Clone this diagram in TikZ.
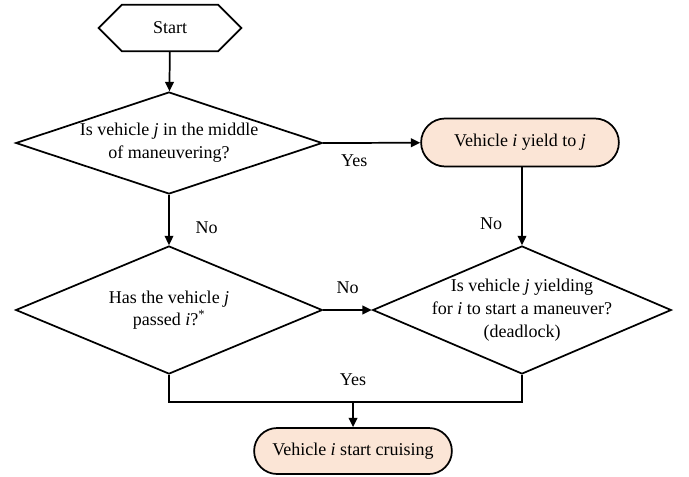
\documentclass[tikz,border=0pt]{standalone}
\usepackage{fontspec}
\setmainfont{Liberation Serif}
\usetikzlibrary{positioning,shapes.geometric,shapes.misc,shapes.symbols,arrows.meta}
\definecolor{peach}{HTML}{FBE5D6}
\begin{document}
\begin{tikzpicture}[x=0.75pt,y=-0.75pt,font=\fontsize{13.5}{17}\selectfont,line width=1.3pt,
  arr/.style = {-{Triangle[length=7pt,width=6.5pt]}},
  hexa/.style = {signal,signal to=west and east,signal pointer angle=90,draw,minimum width=107pt,minimum height=35pt,inner sep=0pt},
  ask/.style = {diamond,draw,align=center,inner sep=0pt},
  act/.style = {rounded rectangle,draw,fill=peach,minimum width=155pt,minimum height=36pt}]
\useasboundingbox (0,0) rectangle (689,476);
\node[hexa] (start) at (170,28) {Start};
\node[ask,aspect=3,inner xsep=-12pt,minimum width=230pt,minimum height=76.5pt] (middle) at (169,143) {Is vehicle \textit{j} in the middle\\of maneuvering?};
\node[act] (yield) at (520,142.5) {Vehicle \textit{i} yield to \textit{j}};
\node[ask,aspect=2.4,minimum width=230pt,minimum height=96pt] (passed) at (169,310) {Has the vehicle \textit{j}\\passed \textit{i}?\textsuperscript{*}};
\node[ask,aspect=2.33,inner xsep=-30pt,minimum width=224pt,minimum height=96pt] (deadlock) at (522,310) {Is vehicle \textit{j} yielding\\for \textit{i} to start a maneuver?\\(deadlock)};
\node[act,minimum height=34.5pt] (cruise) at (353,451) {Vehicle \textit{i} start cruising};
\coordinate (join) at (353,402);
\draw[arr] (start) -- (middle);
\draw[arr] (middle.east) -- node[pos=0.32,below=5pt] {Yes} (yield);
\draw[arr] (middle.south) -- node[pos=0.65,right=16pt] {No} (passed.north);
\draw[arr] (yield.south -| deadlock.north) -- node[pos=0.73,left=11pt] {No} (deadlock.north);
\draw[arr] (passed.east) -- node[above=8pt] {No} (deadlock.west);
\draw (passed.south) |- (join) node[above=8pt] {Yes} -| (deadlock.south);
\draw[arr] (join) -- (cruise);
\end{tikzpicture}
\end{document}
